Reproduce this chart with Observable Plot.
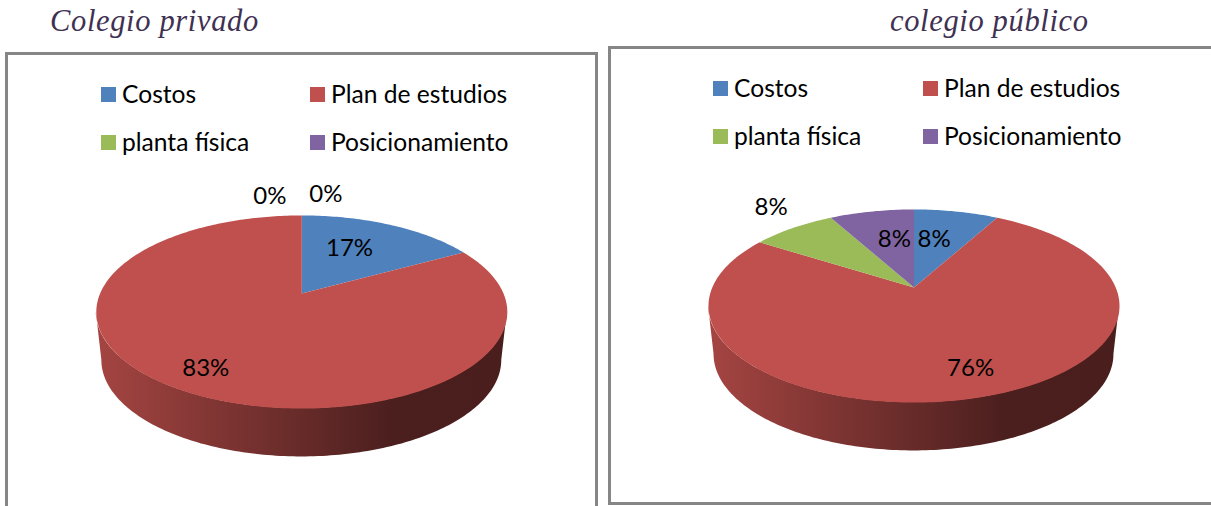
<!DOCTYPE html>
<html lang="es">
<head>
<meta charset="utf-8">
<script src="https://cdn.jsdelivr.net/npm/d3@7"></script>
<script src="https://cdn.jsdelivr.net/npm/@observablehq/plot@0.6"></script>
<style>
  html, body { margin: 0; padding: 0; background: #fff; width: 1211px; height: 506px; overflow: hidden; }
  .title { position: absolute; font: italic 30.5px "Liberation Serif", serif; color: #403152; letter-spacing: .65px; line-height: 1; white-space: nowrap; }
  .frame { position: absolute; box-sizing: border-box; border: 3px solid #868686; background: #fff; }
  .frame svg { position: absolute; left: 0; top: 0; overflow: visible; }
  .swatch { position: absolute; width: 15px; height: 15px; }
  .legend { position: absolute; font: 24.6px Lato, sans-serif; color: #000; line-height: 1; white-space: nowrap; }
</style>
</head>
<body>
<script>
// ---- data ----
const categories = ["Costos", "Plan de estudios", "planta física", "Posicionamiento"];
const colors = ["#4f81bd", "#c0504d", "#9bbb59", "#8064a2"];
const privadoValues = [17, 83, 0, 0];
const publicoValues = [8, 76, 8, 8];
const titles = ["Colegio privado", "colegio público"];

// ---- layout of each panel (page pixels) ----
const tilt = 0.1917;            // perspective of the pie disc
const halfW = 201.7, halfH = 93;
const depth = 0.52, baseScale = 0.973;
const panels = [
  {values: privadoValues, title: titles[0], titleX: 50, titleY: 6,
   frame: {l: 5, t: 52, w: 593, h: 480}, apex: [301.3, 293], legend: [101, 310, 87, 135],
   labels: [{r: .62, dx: -10, dy: 0}, {r: .81, dx: 0, dy: 0}, {r: 1.1, dx: -32, dy: -12.5}, {r: 1.1, dx: 24, dy: -14.5}]},
  {values: publicoValues, title: titles[1], titleX: 890, titleY: 6,
   frame: {l: 608, t: 46, w: 640, h: 459}, apex: [913.5, 287], legend: [713, 923, 81, 129],
   labels: [{r: .6, dx: -7, dy: 0}, {r: .85, dx: 6, dy: -10}, {r: 1.15, dx: -6, dy: -13}, {r: .6, dx: 7.5, dy: 0}]}
];

const rad = d => d * Math.PI / 180;
// a point of the tilted disc, r = 1 on the rim, angle clockwise from the top
const disc = (deg, r = 1) => {
  const u = r * Math.sin(rad(deg)), v = r * Math.cos(rad(deg)), w = 1 + tilt * v;
  return [u / w, v / w];
};

function slices(values) {
  const total = d3.sum(values);
  let a = 0;
  return values.map((v, i) => {
    const start = a; a += v / total * 360;
    return {name: categories[i], value: v, start, end: a, mid: (start + a) / 2};
  });
}

function sweep(a0, a1) {
  const n = Math.max(2, Math.ceil((a1 - a0)));
  return d3.range(n + 1).map(k => a0 + (a1 - a0) * k / n);
}

panels.forEach((p, pi) => {
  const s = slices(p.values);

  const top = s.filter(d => d.value > 0).flatMap(d => [
    {name: d.name, x: 0, y: 0},
    ...sweep(d.start, d.end).map(t => { const [x, y] = disc(t); return {name: d.name, x, y}; })
  ]);

  // the visible front wall runs between the two widest points of the disc
  const f0 = Math.acos(-tilt) * 180 / Math.PI, f1 = 360 - f0;
  const walls = s.map(d => ({d, a0: Math.max(d.start, f0), a1: Math.min(d.end, f1)}))
    .filter(w => w.a1 > w.a0)
    .map(w => ({
      name: w.d.name,
      pts: sweep(w.a0, w.a1).map(t => {
        const [x, y] = disc(t);
        return {x1: x, y1: y, x2: x * baseScale, y2: y - depth};
      })
    }));

  const gid = n => `wall-${pi}-${categories.indexOf(n)}`;
  const defs = () => {
    const g = d3.create("svg:defs");
    walls.forEach(w => {
      const base = d3.color(colors[categories.indexOf(w.name)]);
      const lg = g.append("linearGradient").attr("id", gid(w.name));
      [[0, .86], [.3, .66], [.52, .52], [.72, .39], [1, .38]].forEach(([o, k]) => {
        lg.append("stop").attr("offset", o)
          .attr("stop-color", d3.rgb(base.r * k, base.g * k, base.b * k).formatHex());
      });
    });
    return g.node();
  };

  const labelMarks = s.map((d, i) => {
    const l = p.labels[i];
    const [x, y] = disc(d.mid, l.r);
    return Plot.text([{x, y, t: `${d.value}%`}], {
      x: "x", y: "y", text: "t", dx: l.dx, dy: l.dy,
      fontSize: 24, fontFamily: "Lato, sans-serif", fill: "#000", lineAnchor: "middle", textAnchor: "middle"
    });
  });

  const W = p.frame.w - 6, H = p.frame.h - 6;
  const ox = p.frame.l + 3, oy = p.frame.t + 3;
  const chart = Plot.plot({
    width: W, height: H, margin: 0,
    style: {background: "transparent", overflow: "visible"},
    x: {domain: [-1, 1], range: [p.apex[0] - halfW - ox, p.apex[0] + halfW - ox], axis: null},
    y: {domain: [-1, 1], range: [p.apex[1] + halfH - oy, p.apex[1] - halfH - oy], axis: null},
    color: {domain: categories, range: colors},
    marks: [
      defs,
      ...walls.map(w => Plot.area(w.pts, {x1: "x1", y1: "y1", x2: "x2", y2: "y2", fill: `url(#${gid(w.name)})`, curve: "linear"})),
      Plot.line(top, {x: "x", y: "y", z: "name", fill: "name", stroke: "none", curve: "linear"}),
      ...labelMarks
    ]
  });

  const frame = document.createElement("div");
  frame.className = "frame";
  Object.assign(frame.style, {left: p.frame.l + "px", top: p.frame.t + "px", width: p.frame.w + "px", height: p.frame.h + "px"});
  frame.appendChild(chart);
  document.body.appendChild(frame);

  const title = document.createElement("div");
  title.className = "title";
  title.textContent = p.title;
  title.style.left = p.titleX + "px";
  title.style.top = p.titleY + "px";
  document.body.appendChild(title);

  categories.forEach((c, i) => {
    const lx = p.legend[i % 2], ly = p.legend[2 + (i >> 1)];
    const sw = document.createElement("div");
    sw.className = "swatch";
    Object.assign(sw.style, {left: lx + "px", top: ly + "px", background: colors[i]});
    document.body.appendChild(sw);
    const t = document.createElement("div");
    t.className = "legend";
    t.textContent = c;
    Object.assign(t.style, {left: (lx + 21) + "px", top: (ly - 5.5) + "px"});
    document.body.appendChild(t);
  });
});
</script>
</body>
</html>
